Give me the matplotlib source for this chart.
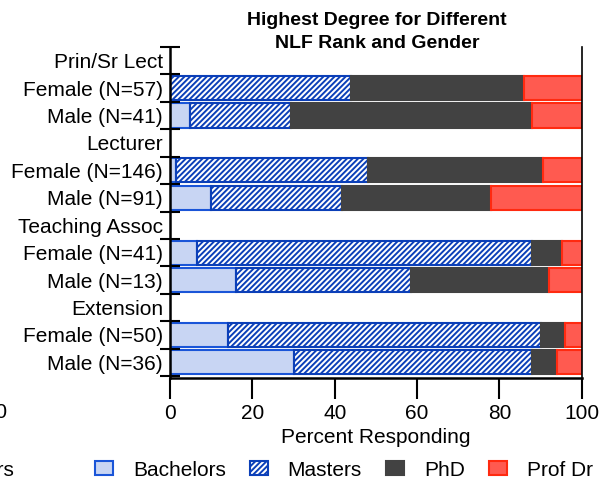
import matplotlib
matplotlib.use("Agg")
import matplotlib.pyplot as plt
from matplotlib.patches import Patch
import numpy as np

plt.rcParams['font.family'] = ['Liberation Sans', 'DejaVu Sans']
plt.rcParams['hatch.linewidth'] = 1.4

# rows from top to bottom; header rows have no bars
row_labels = ["Prin/Sr Lect", "Female (N=57)", "Male (N=41)",
              "Lecturer", "Female (N=146)", "Male (N=91)",
              "Teaching Assoc", "Female (N=41)", "Male (N=13)",
              "Extension", "Female (N=50)", "Male (N=36)"]
bar_rows = [1, 2, 4, 5, 7, 8, 10, 11]

# percent responding, one value per bar row
bachelors = [0.0, 4.9, 1.4, 9.9, 6.6, 16.0, 14.0, 30.0]
masters = [43.9, 24.4, 46.6, 31.9, 81.2, 42.5, 76.0, 57.8]
phd = [42.1, 58.5, 42.5, 36.2, 7.3, 33.5, 6.0, 6.2]
prof_dr = [14.0, 12.2, 9.5, 22.0, 4.9, 8.0, 4.0, 6.0]

series = ["Bachelors", "Masters", "PhD", "Prof Dr"]
faces = ["#c8d5f3", "white", "#424242", "#ff5a50"]
edges = ["#1a55d8", "#0b3fb8", "#424242", "#ff2a10"]
hatches = [None, "//////", None, None]

fig = plt.figure(figsize=(6.02, 4.83), dpi=100)
ax = fig.add_axes([0.2824, 0.2174, 0.684, 0.6853])

left = np.zeros(len(bar_rows))
for vals, fc, ec, h in zip([bachelors, masters, phd, prof_dr], faces, edges, hatches):
    ax.barh(bar_rows, vals, left=left, height=0.88, color=fc, edgecolor=ec,
            hatch=h, linewidth=1.5)
    left += np.array(vals)

ax.set_xlim(0, 100)
ax.set_ylim(11.57, -0.5)
ax.set_xticks([0, 20, 40, 60, 80, 100])
ax.set_yticks(range(len(row_labels)))
ax.set_yticklabels(row_labels)
ax.set_yticks(np.arange(-0.5, 11.6, 1), minor=True)
ax.tick_params(axis='y', which='major', length=0, labelsize=15, pad=5)
ax.tick_params(axis='y', which='minor', direction='inout', length=15, width=1.5)
ax.tick_params(axis='x', length=15, width=1.5, labelsize=15)
ax.spines['top'].set_visible(False)
ax.spines['left'].set_linewidth(1.8)
ax.spines['bottom'].set_linewidth(1.8)
ax.spines['right'].set_linewidth(1.2)
ax.set_xlabel("Percent Responding", fontsize=15, labelpad=4)

fig.text(377 / 602, 1 - 12 / 483, "Highest Degree for Different\nNLF Rank and Gender",
         fontsize=14, fontweight='bold', ha='center', va='top', linespacing=1.45)

handles = [Patch(facecolor=fc, edgecolor=ec, hatch=h, linewidth=1.5)
           for fc, ec, h in zip(faces, edges, hatches)]
fig.legend(handles, series, loc='center', bbox_to_anchor=(0.571, 1 - 470 / 483),
           ncol=4, frameon=False, fontsize=15, handlelength=0.87,
           handleheight=0.62, columnspacing=1.15, handletextpad=0.95,
           borderpad=0, borderaxespad=0)

# clipped pieces of a neighbouring panel at the left edge
fig.text(0.013, 1 - 413 / 483, "100", fontsize=15, ha='right', va='center')
fig.text(0.023, 1 - 471 / 483, "Bachelors", fontsize=15, ha='right', va='center')

fig.savefig("out.png", dpi=100)
